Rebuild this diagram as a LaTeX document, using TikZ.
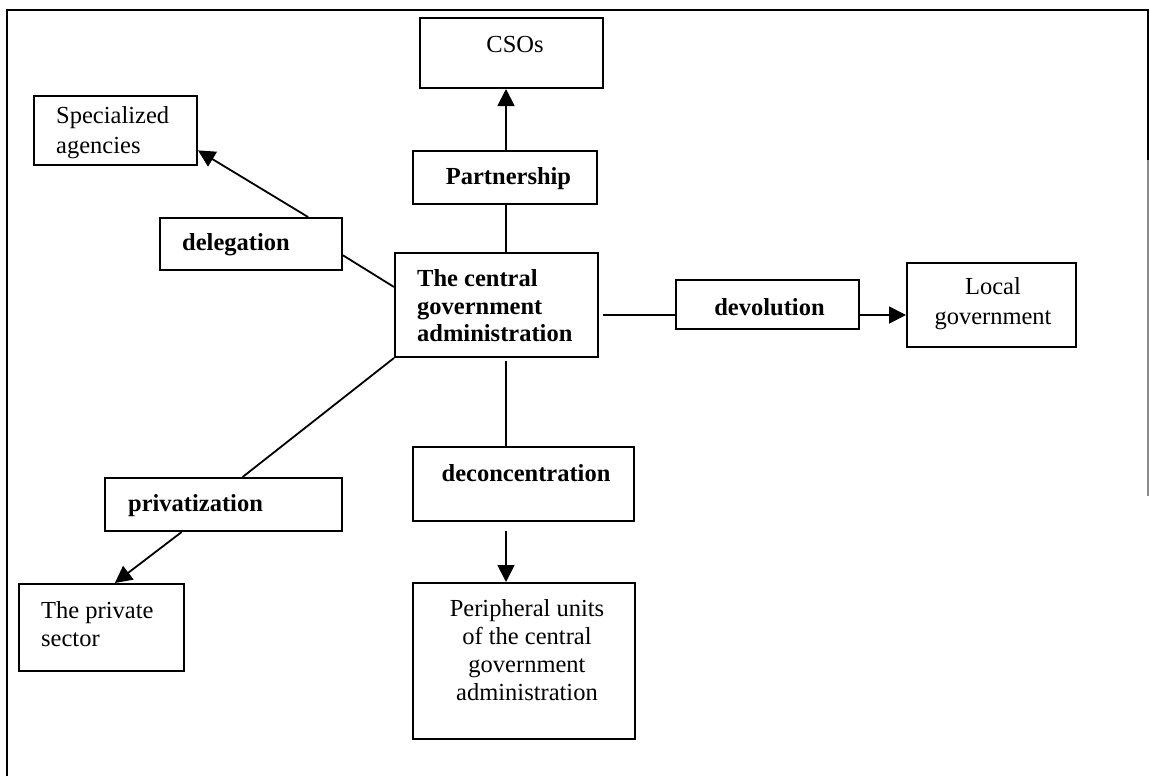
\documentclass[tikz,border=0pt]{standalone}
\usepackage{fontspec}
\setmainfont{Liberation Serif}
\usetikzlibrary{arrows.meta,calc}
\begin{document}
\begin{tikzpicture}[x=1pt,y=-1pt,
  box/.style={draw, line width=2pt, inner sep=0pt},
  conn/.style={line width=1.8pt},
  arr/.style={line width=1.8pt, -{Triangle[length=17pt,width=17pt]}},
  lbl/.style={font=\fontsize{24.5}{28}\selectfont\bfseries, inner sep=0pt},
  txt/.style={font=\fontsize{24.5}{28}\selectfont, inner sep=0pt},
  frame/.style={line width=2pt}
]
\useasboundingbox (0,0) rectangle (1150,776);
% outer frame
\draw[frame] (7,776) -- (7,10) -- (1148,10) -- (1148,160);
\draw[frame, draw=black!45] (1148,160) -- (1148,496);

% boxes
\node[box, minimum width=183pt, minimum height=70pt] (csos) at (511.5,53) {};
\node[box, minimum width=163pt, minimum height=69pt] (spec) at (115.5,130.5) {};
\node[box, minimum width=184pt, minimum height=53pt] (partner) at (505,177.5) {};
\node[box, minimum width=182pt, minimum height=52pt] (deleg) at (251,244) {};
\node[box, minimum width=203pt, minimum height=104pt] (central) at (496.5,305) {};
\node[box, minimum width=183pt, minimum height=49pt] (devol) at (767.5,304.5) {};
\node[box, minimum width=169pt, minimum height=84pt] (local) at (991.5,305) {};
\node[box, minimum width=237pt, minimum height=53pt] (privat) at (223.5,504.5) {};
\node[box, minimum width=165pt, minimum height=87pt] (private) at (101.5,627.5) {};
\node[box, minimum width=221pt, minimum height=74pt] (deconc) at (523.5,484) {};
\node[box, minimum width=222pt, minimum height=156pt] (periph) at (524,661) {};

% texts
\node[txt] (tcsos) at (515,45) {CSOs};
\node[txt, anchor=west, align=left, font=\fontsize{24.5}{30}\selectfont] (tspec) at (56,133) {Specialized\\agencies};
\node[lbl] (tpartner) at (508.5,179) {Partnership};
\node[lbl] (tdeleg) at (236,245) {delegation};
\node[lbl, anchor=west, align=left, font=\fontsize{24.5}{27.5}\selectfont\bfseries] (tcentral) at (417,306) {The central\\government\\administration};
\node[lbl] (tdevol) at (769.5,307) {devolution};
\node[txt, align=center, font=\fontsize{24.5}{30}\selectfont] (tlocal) at (993,304) {Local\\government};
\node[lbl] (tprivat) at (195.5,506) {privatization};
\node[txt, anchor=west, align=left] (tprivate) at (41,624) {The private\\sector};
\node[lbl] (tdeconc) at (526,473) {deconcentration};
\node[txt, align=center] (tperiph) at (527,650) {Peripheral units\\of the central\\government\\administration};

% connectors
\coordinate (vx) at (506,0);
\coordinate (hy) at (0,315);
\draw[conn] (central.north -| vx) -- (partner.south -| vx);
\draw[arr] (partner.north -| vx) -- (csos.south -| vx);
\draw[conn] ($(central.north west)!0.33!(central.south west)$) -- ($(deleg.north east)!0.71!(deleg.south east)$);
\draw[arr] ($(deleg.north west)!0.81!(deleg.north east)$) -- ($(spec.north east)!0.78!(spec.south east)$);
\draw[conn] (central.south west) -- ($(privat.north west)!0.58!(privat.north east)$);
\draw[arr] ($(privat.south west)!0.325!(privat.south east)$) -- ($(private.north west)!0.58!(private.north east)$);
\draw[conn, shorten <=4pt] (central.east |- hy) -- (devol.west |- hy);
\draw[arr] (devol.east |- hy) -- (local.west |- hy);
\draw[conn, shorten <=3pt] (central.south -| vx) -- (deconc.north -| vx);
\draw[arr, shorten <=9pt] (deconc.south -| vx) -- (periph.north -| vx);
\end{tikzpicture}
\end{document}
